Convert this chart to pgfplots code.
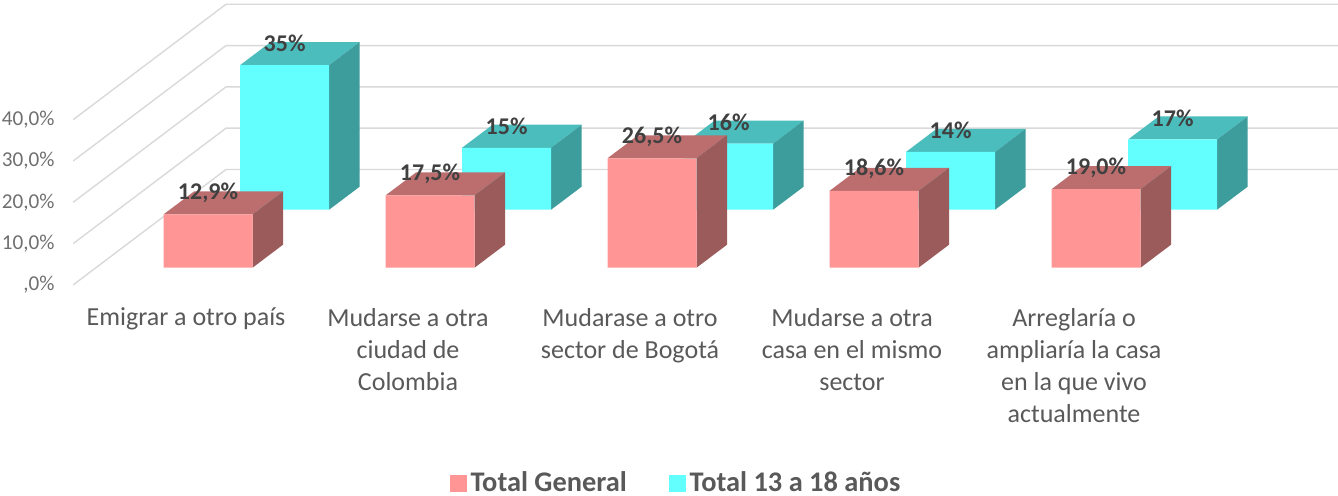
\documentclass[border=0pt]{standalone}
\usepackage{pgfplots}
\usepackage{pgfplotstable}
\usepackage{fontspec}
\setmainfont{Carlito}
\pgfplotsset{compat=1.18}
\definecolor{pinkF}{HTML}{FF9595}
\definecolor{pinkT}{HTML}{BC6E6E}
\definecolor{pinkS}{HTML}{9C5B5B}
\definecolor{cyanF}{HTML}{63FFFF}
\definecolor{cyanT}{HTML}{4BBDBD}
\definecolor{cyanS}{HTML}{3D9C9C}
\definecolor{gridc}{HTML}{D9D9D9}
\definecolor{tickc}{HTML}{6F6F6F}
\definecolor{catc}{HTML}{595959}
\definecolor{valc}{HTML}{404040}
\pgfplotstableread{
pos value label
0 12.9 {12,9\%}
1 17.5 {17,5\%}
2 26.5 {26,5\%}
3 18.6 {18,6\%}
4 19.0 {19,0\%}
}\general
\pgfplotstableread{
pos value label
0 35 {35\%}
1 15 {15\%}
2 16 {16\%}
3 14 {14\%}
4 17 {17\%}
}\teens
% top and side faces of one bar: position, value, top colour, side colour
\newcommand{\faces}[4]{%
  \pgfmathsetmacro{\xa}{#1-0.2005}%
  \pgfmathsetmacro{\xb}{#1+0.2005}%
  \pgfmathsetmacro{\xc}{#1+0.3379}%
  \pgfmathsetmacro{\xd}{#1-0.0631}%
  \pgfmathsetmacro{\yb}{#2+5.57}%
  \addplot[fill=#3,draw=none,forget plot] coordinates {(\xa,#2)(\xb,#2)(\xc,\yb)(\xd,\yb)} --cycle;
  \addplot[fill=#4,draw=none,forget plot] coordinates {(\xb,0)(\xc,5.57)(\xc,\yb)(\xb,#2)} --cycle;
}
\pgfplotsset{
  barbase/.style={
    scale only axis,width=669pt,height=150pt,anchor=south west,at={(0pt,97.5pt)},
    enlargelimits=false,clip=false,
  },
  frontbars/.style={
    ybar,bar width=44.5pt,bar shift=0pt,draw=none,forget plot,
    point meta=explicit symbolic,nodes near coords,
    every node near coord/.style={font=\fontsize{12}{14}\selectfont\bfseries,text=valc,anchor=center,yshift=10.8pt},
  },
}
\begin{document}
\begin{tikzpicture}
\useasboundingbox (0pt,0pt) rectangle (669pt,247.5pt);
% walls
\begin{axis}[
  scale only axis,width=632.5pt,height=150pt,anchor=south west,at={(36.5pt,97.5pt)},
  xmin=0,xmax=1265,ymin=-3.63,ymax=69,enlargelimits=false,
  axis line style={draw=none},tick style={draw=none},
  xtick=\empty,ytick={0,10,20,30,40},
  yticklabels={{,0\%},{10,0\%},{20,0\%},{30,0\%},{40,0\%}},
  yticklabel style={font=\fontsize{10.6}{14}\selectfont,text=tickc,inner sep=0pt,xshift=-9pt},
]
\addplot[gridc,line width=0.7pt] coordinates {(0,0)(153,27.97)(1265,27.97)};
\addplot[gridc,line width=0.7pt] coordinates {(0,10)(153,37.97)(1265,37.97)};
\addplot[gridc,line width=0.7pt] coordinates {(0,20)(153,47.97)(1265,47.97)};
\addplot[gridc,line width=0.7pt] coordinates {(0,30)(153,57.97)(1265,57.97)};
\addplot[gridc,line width=0.7pt] coordinates {(0,40)(153,67.97)(1265,67.97)};
\end{axis}
% back row: Total 13 a 18 anos
\begin{axis}[barbase,hide axis,
  xmin=-1.282,xmax=4.745,ymin=-21.86,ymax=50.77]
\faces{0}{35}{cyanT}{cyanS}
\faces{1}{15}{cyanT}{cyanS}
\faces{2}{16}{cyanT}{cyanS}
\faces{3}{14}{cyanT}{cyanS}
\faces{4}{17}{cyanT}{cyanS}
\addplot[frontbars,fill=cyanF] table[x=pos,y=value,meta=label] {\teens};
\end{axis}
% front row: Total General
\begin{axis}[barbase,
  xmin=-0.937,xmax=5.09,ymin=-7.82,ymax=64.82,
  axis line style={draw=none},tick style={draw=none},
  ytick=\empty,xtick={0,1,2,3,4},
  xticklabels={{Emigrar a otro país},{Mudarse a otra\\ciudad de\\Colombia},{Mudarase a otro\\sector de Bogotá},{Mudarse a otra\\casa en el mismo\\sector},{Arreglaría o\\ampliaría la casa\\en la que vivo\\actualmente}},
  xticklabel style={font=\fontsize{13}{16}\selectfont,text=catc,align=center,xshift=-11pt,anchor=north,yshift=-0.5pt},
  legend style={at={(0.506,-0.61)},anchor=center,draw=none,fill=none,legend columns=2,
    font=\fontsize{14.2}{16}\selectfont\bfseries,text=catc,
    nodes={inner ysep=0pt},
    /tikz/every even column/.append style={column sep=19pt}},
  legend image code/.code={\fill[#1] (0pt,-4pt) rectangle (8pt,4pt);},
]
\faces{0}{12.9}{pinkT}{pinkS}
\faces{1}{17.5}{pinkT}{pinkS}
\faces{2}{26.5}{pinkT}{pinkS}
\faces{3}{18.6}{pinkT}{pinkS}
\faces{4}{19.0}{pinkT}{pinkS}
\addplot[frontbars,fill=pinkF] table[x=pos,y=value,meta=label] {\general};
\addlegendimage{pinkF}
\addlegendentry{Total General}
\addlegendimage{cyanF}
\addlegendentry{Total 13 a 18 años}
\end{axis}
\end{tikzpicture}
\end{document}
